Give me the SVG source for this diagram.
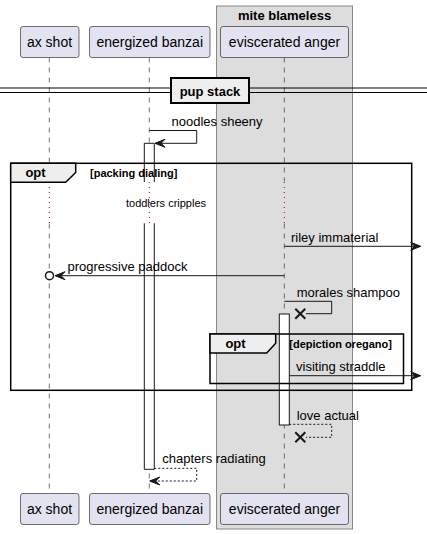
<svg xmlns="http://www.w3.org/2000/svg" width="427" height="534" viewBox="0 0 427 534">
<defs>
<style>
text{font-family:"Liberation Sans",Arial,sans-serif;fill:#000}
.part{fill:#E2E2F0;stroke:#181818;stroke-width:0.6}
.pl{font-size:14px;text-anchor:middle}
.msg{font-size:13px}
.b{font-weight:bold}
.life{stroke:#181818;stroke-width:0.6;stroke-dasharray:5,5;fill:none}
.delay{stroke:#A80036;stroke-width:1;stroke-dasharray:1,4;fill:none}
.act{fill:#fff;stroke:#181818;stroke-width:1}
.actfill{fill:#fff;stroke:none}
.ln{stroke:#181818;stroke-width:1;fill:none}
.dash{stroke:#181818;stroke-width:1;fill:none;stroke-dasharray:2,2}
.frame{fill:none;stroke:#000;stroke-width:1.5}
.tab{fill:#EEEEEE;stroke:#000;stroke-width:1.5}
.head{fill:#181818;stroke:#181818;stroke-width:1}
.x{stroke:#181818;stroke-width:2}
</style>
</defs>
<rect x="0" y="0" width="427" height="534" fill="#fff"/>
<g id="box-mite-blameless">
<rect x="216.5" y="6" width="136" height="523" fill="#DDDDDD" stroke="#888888" stroke-width="1"/>
<text x="284.5" y="19.5" font-size="13" text-anchor="middle" class="b">mite blameless</text>
</g>
<g id="lifelines">
<line class="life" x1="49.3" y1="57.5" x2="49.3" y2="181.5"/>
<line class="life" x1="49.3" y1="223.5" x2="49.3" y2="493.5"/>
<line class="life" x1="149.3" y1="57.5" x2="149.3" y2="181.5"/>
<line class="life" x1="149.3" y1="223.5" x2="149.3" y2="493.5"/>
<line class="life" x1="284.3" y1="57.5" x2="284.3" y2="181.5"/>
<line class="life" x1="284.3" y1="223.5" x2="284.3" y2="493.5"/>
<line class="delay" x1="49.3" y1="182" x2="49.3" y2="223"/>
<line class="delay" x1="149.3" y1="182" x2="149.3" y2="223"/>
<line class="delay" x1="284.3" y1="182" x2="284.3" y2="223"/>
</g>
<g id="ax-shot">
<rect class="part" x="20.5" y="26.5" width="58.5" height="31" rx="2.5"/>
<text class="pl" x="49.5" y="47">ax shot</text>
<rect class="part" x="20.5" y="493.5" width="58.5" height="31" rx="2.5"/>
<text class="pl" x="49.5" y="514">ax shot</text>
</g>
<g id="energized-banzai">
<rect class="part" x="89.5" y="26.5" width="120.5" height="31" rx="2.5"/>
<text class="pl" x="149.7" y="47">energized banzai</text>
<rect class="part" x="89.5" y="493.5" width="120.5" height="31" rx="2.5"/>
<text class="pl" x="149.7" y="514">energized banzai</text>
</g>
<g id="eviscerated-anger">
<rect class="part" x="220.5" y="26.5" width="128" height="31" rx="2.5"/>
<text class="pl" x="284.5" y="47">eviscerated anger</text>
<rect class="part" x="220.5" y="493.5" width="128" height="31" rx="2.5"/>
<text class="pl" x="284.5" y="514">eviscerated anger</text>
</g>
<g id="activations">
<rect class="actfill" x="144.3" y="143.3" width="10" height="38.7"/>
<path class="ln" d="M144.3,182 V143.3 H154.3 V182"/>
<rect class="actfill" x="144.3" y="223.3" width="10" height="246"/>
<path class="ln" d="M144.3,223.3 V469.3 H154.3 V223.3"/>
<rect class="act" x="279.3" y="314" width="10" height="111"/>
</g>
<g id="divider-pup-stack">
<line x1="0" y1="88" x2="427" y2="88" stroke="#000" stroke-width="1"/>
<line x1="0" y1="92.5" x2="427" y2="92.5" stroke="#000" stroke-width="1"/>
<rect x="171" y="78" width="78" height="25" fill="#EEEEEE" stroke="#000" stroke-width="2"/>
<text x="210" y="96" font-size="13" text-anchor="middle" class="b">pup stack</text>
</g>
<g id="frame-opt-outer">
<rect class="frame" x="10.7" y="163.3" width="401" height="227"/>
<polygon class="tab" points="10.7,163.3 75.7,163.3 75.7,172.5 65.7,182.3 10.7,182.3"/>
<text x="35.5" y="177" font-size="13" text-anchor="middle" class="b">opt</text>
<text x="90" y="177" font-size="11" class="b">[packing dialing]</text>
</g>
<g id="frame-opt-inner">
<rect class="frame" x="210" y="334" width="193.5" height="49.5"/>
<polygon class="tab" points="210,334 275.7,334 275.7,343.3 266.7,353 210,353"/>
<text x="235.5" y="348" font-size="13" text-anchor="middle" class="b">opt</text>
<text x="289.3" y="348" font-size="11" class="b">[depiction oregano]</text>
</g>
<g id="connectors">
<polyline class="ln" points="149.3,130.5 196.7,130.5 196.7,143.3 155,143.3"/>
<polygon class="head" points="155,143.3 165,139.3 161,143.3 165,147.3"/>
<text class="msg" x="171.5" y="126">noodles sheeny</text>
<text x="166" y="207" font-size="11" text-anchor="middle">toddlers cripples</text>
<line class="ln" x1="284.3" y1="246.3" x2="420" y2="246.3"/>
<polygon class="head" points="420.7,246.3 410.7,242.3 414.7,246.3 410.7,250.3"/>
<text class="msg" x="291" y="241.5">riley immaterial</text>
<line class="ln" x1="284.3" y1="275.7" x2="56" y2="275.7"/>
<polygon class="head" points="55,275.7 65,271.7 61,275.7 65,279.7"/>
<circle cx="49.5" cy="275.7" r="4" fill="#fff" stroke="#181818" stroke-width="1.5"/>
<text class="msg" x="67.5" y="271">progressive paddock</text>
<polyline class="ln" points="284.3,301.3 331.7,301.3 331.7,313.7 306,313.7"/>
<line class="x" x1="295.3" y1="308.7" x2="305.3" y2="318.7"/>
<line class="x" x1="305.3" y1="308.7" x2="295.3" y2="318.7"/>
<text class="msg" x="296.7" y="297">morales shampoo</text>
<line class="ln" x1="289.3" y1="375.7" x2="420" y2="375.7"/>
<polygon class="head" points="420.7,375.7 410.7,371.7 414.7,375.7 410.7,379.7"/>
<text class="msg" x="296" y="370.7">visiting straddle</text>
<polyline class="dash" points="289.3,424.3 331.7,424.3 331.7,437.3 306,437.3"/>
<line class="x" x1="295.3" y1="432.3" x2="305.3" y2="442.3"/>
<line class="x" x1="305.3" y1="432.3" x2="295.3" y2="442.3"/>
<text class="msg" x="296.7" y="420">love actual</text>
<polyline class="dash" points="154.3,468.3 196.7,468.3 196.7,481 150,481"/>
<polygon class="head" points="149.7,481 159.7,477 155.7,481 159.7,485"/>
<text class="msg" x="162.3" y="463">chapters radiating</text>
</g>
</svg>
